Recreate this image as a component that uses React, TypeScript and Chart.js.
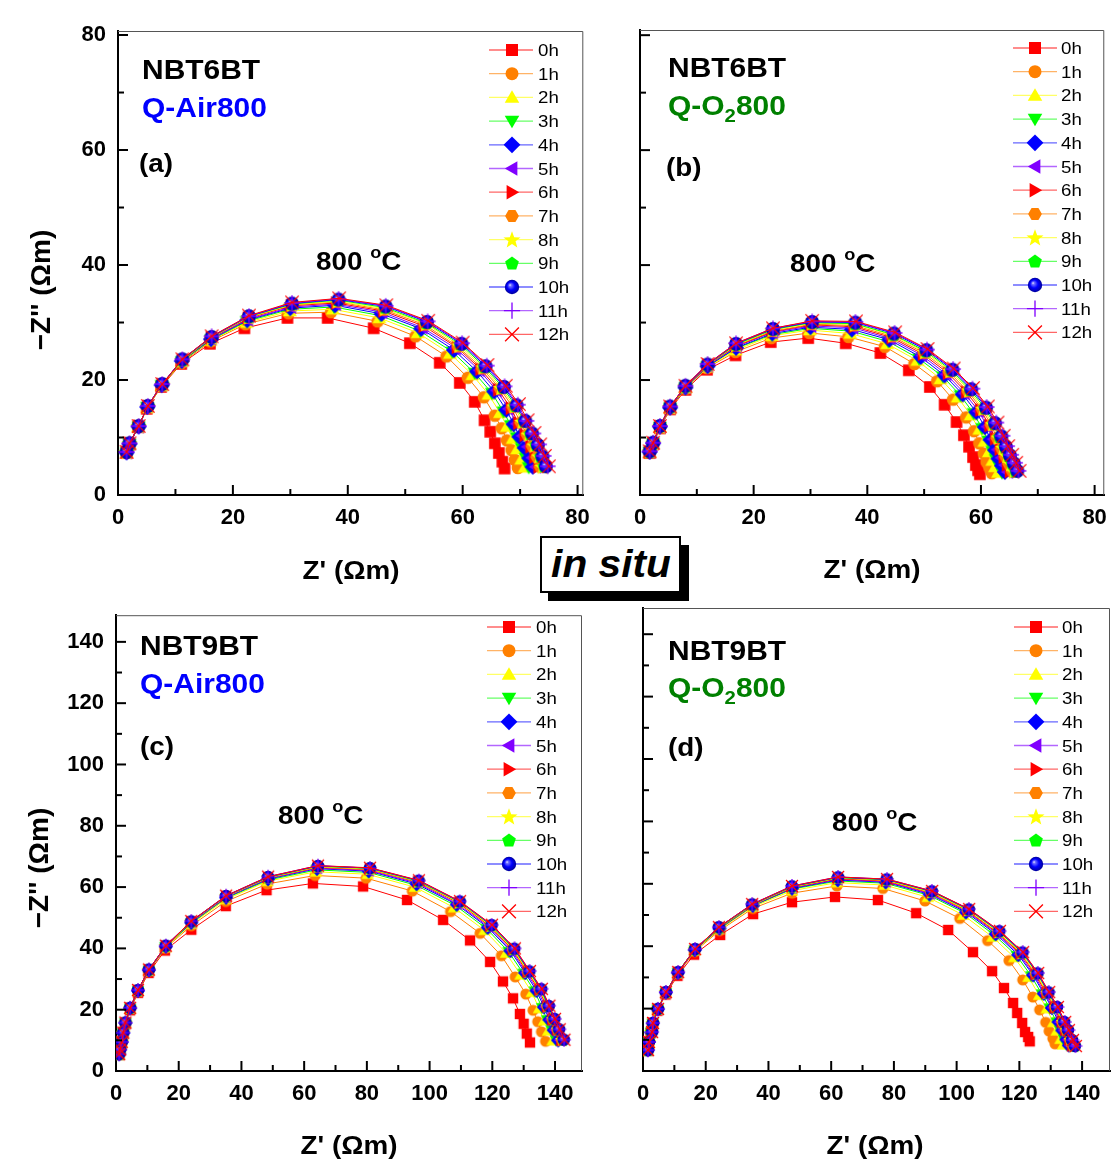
import React, { useEffect, useRef } from 'react';
import { Chart, registerables } from 'chart.js';
Chart.register(...registerables);

const FONT = '"Liberation Sans", Arial, sans-serif';

const timeLabels = ['0h', '1h', '2h', '3h', '4h', '5h', '6h', '7h', '8h', '9h', '10h', '11h', '12h'];
const seriesColors = ['#FF0000', '#FF8000', '#FFFF00', '#00FF00', '#0000FF', '#8000FF', '#FF0000', '#FF8000', '#FFFF00', '#00FF00', '#0000FF', '#8000FF', '#FF0000'];
const markerKinds = ['square', 'circle', 'triUp', 'triDown', 'diamond', 'triLeft', 'triRight', 'hexagon', 'star', 'pentagon', 'ball', 'plus', 'cross'];

// ---------- Panel (a): NBT6BT Q-Air800 ----------
const aZre = [
  [1.5, 2.0, 3.5, 5.0, 7.5, 11.0, 16.0, 22.0, 29.5, 36.5, 44.5, 50.8, 56.0, 59.5, 62.1, 63.8, 64.8, 65.6, 66.3, 66.9, 67.3],
  [1.5, 2.0, 3.5, 5.1, 7.6, 11.1, 16.1, 22.2, 29.7, 37.1, 45.2, 51.8, 57.2, 60.9, 63.7, 65.6, 66.8, 67.7, 68.5, 69.1, 69.6],
  [1.5, 2.0, 3.5, 5.1, 7.6, 11.1, 16.1, 22.4, 29.9, 37.4, 45.5, 52.2, 57.8, 61.7, 64.5, 66.5, 67.7, 68.7, 69.5, 70.2, 70.8],
  [1.5, 2.0, 3.6, 5.1, 7.6, 11.1, 16.2, 22.4, 29.9, 37.6, 45.7, 52.6, 58.2, 62.1, 65.1, 67.1, 68.4, 69.4, 70.3, 71.0, 71.5],
  [1.5, 2.0, 3.6, 5.1, 7.6, 11.1, 16.2, 22.5, 30.0, 37.8, 45.9, 52.8, 58.5, 62.5, 65.5, 67.6, 68.9, 69.9, 70.8, 71.6, 72.2],
  [1.5, 2.0, 3.6, 5.1, 7.6, 11.1, 16.2, 22.6, 30.1, 37.9, 46.0, 53.0, 58.8, 62.9, 65.9, 68.0, 69.4, 70.4, 71.3, 72.1, 72.7],
  [1.5, 2.0, 3.6, 5.2, 7.7, 11.2, 16.2, 22.6, 30.1, 38.0, 46.2, 53.2, 59.0, 63.1, 66.2, 68.4, 69.7, 70.8, 71.8, 72.5, 73.2],
  [1.5, 2.0, 3.6, 5.2, 7.7, 11.2, 16.2, 22.6, 30.1, 38.1, 46.3, 53.4, 59.2, 63.4, 66.5, 68.7, 70.1, 71.2, 72.1, 72.9, 73.5],
  [1.5, 2.0, 3.6, 5.2, 7.7, 11.2, 16.3, 22.7, 30.2, 38.2, 46.4, 53.6, 59.4, 63.6, 66.7, 69.0, 70.4, 71.5, 72.5, 73.3, 73.9],
  [1.5, 2.0, 3.6, 5.2, 7.7, 11.2, 16.3, 22.7, 30.2, 38.3, 46.5, 53.7, 59.6, 63.8, 67.0, 69.2, 70.7, 71.8, 72.8, 73.6, 74.2],
  [1.5, 2.0, 3.6, 5.2, 7.7, 11.2, 16.3, 22.8, 30.3, 38.4, 46.6, 53.8, 59.8, 64.0, 67.2, 69.4, 70.9, 72.1, 73.1, 73.9, 74.5],
  [1.5, 2.0, 3.6, 5.2, 7.7, 11.2, 16.3, 22.8, 30.3, 38.4, 46.6, 53.9, 59.9, 64.2, 67.3, 69.6, 71.1, 72.3, 73.3, 74.1, 74.8],
  [1.5, 2.0, 3.6, 5.2, 7.7, 11.2, 16.3, 22.8, 30.3, 38.5, 46.7, 54.0, 60.0, 64.3, 67.5, 69.8, 71.3, 72.5, 73.5, 74.3, 75.0],
];
const aZim = [
  [7.3, 8.8, 11.8, 15.0, 18.8, 22.8, 26.3, 29.0, 30.8, 30.8, 29.0, 26.4, 23.0, 19.5, 16.2, 13.0, 11.0, 9.0, 7.3, 5.8, 4.6],
  [7.4, 8.9, 11.9, 15.2, 19.0, 23.0, 26.7, 29.7, 31.6, 31.8, 30.2, 27.6, 24.1, 20.4, 17.0, 13.8, 11.6, 9.5, 7.8, 6.1, 4.7],
  [7.4, 8.9, 11.9, 15.2, 19.0, 23.2, 26.9, 30.0, 32.0, 32.3, 30.8, 28.2, 24.6, 20.9, 17.5, 14.3, 11.9, 9.8, 8.0, 6.2, 4.8],
  [7.4, 8.9, 11.9, 15.3, 19.1, 23.2, 27.0, 30.2, 32.3, 32.7, 31.2, 28.5, 24.9, 21.2, 17.7, 14.5, 12.1, 10.0, 8.1, 6.4, 4.8],
  [7.4, 8.9, 11.9, 15.3, 19.1, 23.3, 27.1, 30.4, 32.5, 33.0, 31.5, 28.9, 25.2, 21.5, 18.0, 14.8, 12.3, 10.1, 8.2, 6.4, 4.9],
  [7.4, 8.9, 11.9, 15.4, 19.2, 23.4, 27.2, 30.5, 32.7, 33.2, 31.8, 29.1, 25.5, 21.7, 18.2, 15.0, 12.4, 10.3, 8.4, 6.5, 4.9],
  [7.5, 9.0, 12.0, 15.4, 19.2, 23.4, 27.3, 30.7, 32.9, 33.4, 32.0, 29.4, 25.7, 21.9, 18.3, 15.1, 12.5, 10.4, 8.4, 6.6, 4.9],
  [7.5, 9.0, 12.0, 15.4, 19.2, 23.4, 27.4, 30.8, 33.0, 33.6, 32.2, 29.6, 25.8, 22.0, 18.5, 15.3, 12.6, 10.5, 8.5, 6.6, 4.9],
  [7.5, 9.0, 12.0, 15.4, 19.2, 23.5, 27.4, 30.9, 33.1, 33.7, 32.4, 29.8, 26.0, 22.2, 18.6, 15.4, 12.7, 10.5, 8.6, 6.7, 4.9],
  [7.5, 9.0, 12.0, 15.5, 19.3, 23.5, 27.5, 31.0, 33.2, 33.9, 32.6, 29.9, 26.2, 22.3, 18.7, 15.5, 12.8, 10.6, 8.7, 6.7, 5.0],
  [7.5, 9.0, 12.0, 15.5, 19.3, 23.6, 27.5, 31.1, 33.3, 34.0, 32.8, 30.1, 26.3, 22.4, 18.8, 15.6, 12.9, 10.7, 8.7, 6.7, 5.0],
  [7.5, 9.0, 12.0, 15.5, 19.3, 23.6, 27.6, 31.1, 33.4, 34.1, 32.9, 30.2, 26.4, 22.5, 18.9, 15.7, 12.9, 10.7, 8.8, 6.8, 5.0],
  [7.5, 9.0, 12.0, 15.5, 19.3, 23.6, 27.6, 31.2, 33.5, 34.2, 33.0, 30.3, 26.5, 22.6, 19.0, 15.8, 13.0, 10.8, 8.8, 6.8, 5.0],
];

// ---------- Panel (b): NBT6BT Q-O2800 ----------
const bZre = [
  [1.7, 2.3, 3.5, 5.3, 8.0, 11.8, 16.8, 23.0, 29.6, 36.2, 42.3, 47.3, 51.0, 53.6, 55.7, 57.0, 57.9, 58.6, 59.1, 59.5, 59.8],
  [1.7, 2.3, 3.5, 5.3, 8.0, 11.8, 16.8, 23.1, 29.8, 36.7, 43.1, 48.3, 52.3, 55.1, 57.4, 58.8, 59.7, 60.5, 61.0, 61.5, 61.9],
  [1.7, 2.3, 3.5, 5.3, 8.0, 11.8, 16.8, 23.2, 29.9, 37.0, 43.5, 48.8, 52.9, 55.9, 58.2, 59.7, 60.6, 61.4, 62.0, 62.5, 63.0],
  [1.7, 2.3, 3.5, 5.3, 8.0, 11.9, 16.9, 23.2, 30.0, 37.2, 43.7, 49.1, 53.3, 56.4, 58.7, 60.2, 61.3, 62.0, 62.6, 63.2, 63.7],
  [1.7, 2.3, 3.5, 5.3, 8.0, 11.9, 16.9, 23.3, 30.0, 37.3, 43.9, 49.4, 53.6, 56.8, 59.2, 60.7, 61.7, 62.5, 63.1, 63.7, 64.2],
  [1.7, 2.3, 3.5, 5.3, 8.0, 11.9, 16.9, 23.3, 30.1, 37.5, 44.1, 49.6, 53.9, 57.1, 59.6, 61.1, 62.2, 62.9, 63.6, 64.2, 64.7],
  [1.7, 2.3, 3.5, 5.3, 8.0, 11.9, 16.9, 23.3, 30.1, 37.6, 44.3, 49.8, 54.2, 57.4, 59.9, 61.5, 62.5, 63.3, 64.0, 64.6, 65.1],
  [1.7, 2.3, 3.5, 5.3, 8.0, 11.9, 16.9, 23.3, 30.2, 37.7, 44.4, 50.0, 54.4, 57.7, 60.2, 61.8, 62.8, 63.6, 64.3, 64.9, 65.5],
  [1.7, 2.3, 3.5, 5.3, 8.0, 11.9, 16.9, 23.3, 30.2, 37.8, 44.5, 50.1, 54.6, 57.9, 60.4, 62.1, 63.1, 63.9, 64.6, 65.3, 65.8],
  [1.7, 2.3, 3.5, 5.3, 8.0, 11.9, 16.9, 23.4, 30.2, 37.8, 44.6, 50.3, 54.8, 58.1, 60.7, 62.3, 63.3, 64.2, 64.9, 65.5, 66.1],
  [1.7, 2.3, 3.5, 5.3, 8.0, 11.9, 16.9, 23.4, 30.3, 37.9, 44.7, 50.4, 55.0, 58.3, 60.9, 62.5, 63.6, 64.4, 65.1, 65.8, 66.4],
  [1.7, 2.3, 3.5, 5.3, 8.0, 11.9, 16.9, 23.4, 30.3, 37.9, 44.8, 50.5, 55.1, 58.5, 61.0, 62.7, 63.8, 64.6, 65.3, 66.0, 66.6],
  [1.7, 2.3, 3.5, 5.3, 8.0, 11.9, 16.9, 23.4, 30.3, 38.0, 44.9, 50.6, 55.2, 58.6, 61.2, 62.9, 64.0, 64.8, 65.5, 66.2, 66.8],
];
const bZim = [
  [7.3, 8.8, 11.6, 14.9, 18.3, 21.8, 24.3, 26.6, 27.3, 26.4, 24.7, 21.7, 18.8, 15.7, 12.7, 10.4, 8.4, 6.6, 5.2, 4.3, 3.6],
  [7.4, 8.9, 11.7, 15.1, 18.5, 22.1, 24.9, 27.3, 28.2, 27.5, 25.8, 22.8, 19.8, 16.6, 13.5, 11.1, 9.0, 7.2, 5.7, 4.7, 3.8],
  [7.4, 8.9, 11.8, 15.1, 18.6, 22.2, 25.2, 27.7, 28.7, 28.1, 26.3, 23.4, 20.2, 17.0, 13.9, 11.4, 9.3, 7.5, 6.0, 4.9, 3.9],
  [7.5, 9.0, 11.8, 15.2, 18.7, 22.4, 25.5, 27.9, 29.0, 28.5, 26.7, 23.7, 20.6, 17.3, 14.2, 11.6, 9.4, 7.6, 6.2, 5.0, 3.9],
  [7.5, 9.0, 11.9, 15.2, 18.7, 22.4, 25.6, 28.1, 29.2, 28.8, 27.0, 24.0, 20.8, 17.5, 14.4, 11.8, 9.6, 7.8, 6.3, 5.1, 4.0],
  [7.5, 9.0, 11.9, 15.3, 18.8, 22.5, 25.8, 28.3, 29.4, 29.1, 27.2, 24.3, 21.0, 17.7, 14.6, 11.9, 9.7, 7.9, 6.5, 5.2, 4.0],
  [7.5, 9.0, 11.9, 15.3, 18.8, 22.6, 25.9, 28.4, 29.6, 29.3, 27.4, 24.5, 21.2, 17.9, 14.8, 12.1, 9.8, 8.0, 6.6, 5.3, 4.1],
  [7.5, 9.0, 11.9, 15.3, 18.9, 22.6, 26.0, 28.5, 29.7, 29.5, 27.6, 24.7, 21.4, 18.0, 14.9, 12.2, 9.9, 8.1, 6.7, 5.4, 4.1],
  [7.6, 9.1, 11.9, 15.3, 18.9, 22.7, 26.1, 28.7, 29.9, 29.7, 27.8, 24.9, 21.6, 18.2, 15.0, 12.3, 10.0, 8.2, 6.8, 5.4, 4.1],
  [7.6, 9.1, 12.0, 15.4, 18.9, 22.7, 26.2, 28.8, 30.0, 29.8, 27.9, 25.0, 21.7, 18.3, 15.1, 12.4, 10.1, 8.3, 6.8, 5.5, 4.1],
  [7.6, 9.1, 12.0, 15.4, 19.0, 22.7, 26.3, 28.9, 30.1, 30.0, 28.1, 25.2, 21.8, 18.4, 15.2, 12.5, 10.2, 8.4, 6.9, 5.5, 4.2],
  [7.6, 9.1, 12.0, 15.4, 19.0, 22.8, 26.4, 29.0, 30.2, 30.1, 28.2, 25.3, 21.9, 18.5, 15.3, 12.6, 10.3, 8.5, 7.0, 5.6, 4.2],
  [7.6, 9.1, 12.0, 15.4, 19.0, 22.8, 26.4, 29.0, 30.3, 30.2, 28.3, 25.4, 22.0, 18.6, 15.4, 12.6, 10.3, 8.5, 7.0, 5.6, 4.2],
];

// ---------- Panel (c): NBT9BT Q-Air800 ----------
const cZre = [
  [1.0, 1.3, 1.8, 2.3, 3.0, 4.5, 7.0, 10.4, 15.6, 24.0, 35.0, 48.0, 62.8, 78.8, 92.8, 104.3, 112.9, 119.3, 123.4, 126.6, 128.8, 130.0, 131.0, 132.0],
  [1.0, 1.3, 1.8, 2.3, 3.0, 4.5, 7.0, 10.4, 15.7, 24.0, 35.0, 48.2, 63.5, 79.8, 94.5, 106.7, 116.1, 122.9, 127.3, 130.7, 133.0, 134.5, 135.7, 137.0],
  [1.0, 1.3, 1.8, 2.3, 3.0, 4.5, 7.0, 10.5, 15.8, 24.0, 35.1, 48.3, 63.8, 80.2, 95.3, 107.8, 117.5, 124.4, 129.0, 132.6, 134.9, 136.5, 137.8, 139.2],
  [1.0, 1.3, 1.8, 2.3, 3.0, 4.5, 7.0, 10.5, 15.8, 24.0, 35.1, 48.4, 64.0, 80.5, 95.7, 108.4, 118.2, 125.2, 129.9, 133.5, 135.9, 137.5, 138.9, 140.3],
  [1.0, 1.3, 1.8, 2.3, 3.0, 4.5, 7.0, 10.5, 15.9, 24.0, 35.1, 48.5, 64.1, 80.6, 95.9, 108.7, 118.6, 125.8, 130.5, 134.1, 136.5, 138.2, 139.6, 141.0],
  [1.0, 1.3, 1.8, 2.3, 3.0, 4.5, 7.0, 10.5, 15.9, 24.0, 35.1, 48.5, 64.2, 80.7, 96.1, 108.9, 118.9, 126.1, 130.8, 134.5, 136.9, 138.6, 140.0, 141.5],
  [1.0, 1.3, 1.8, 2.3, 3.0, 4.5, 7.0, 10.5, 15.9, 24.0, 35.1, 48.5, 64.2, 80.8, 96.2, 109.2, 119.2, 126.4, 131.1, 134.9, 137.3, 139.0, 140.5, 141.9],
  [1.0, 1.3, 1.8, 2.3, 3.0, 4.5, 7.0, 10.5, 15.9, 24.0, 35.1, 48.5, 64.3, 80.8, 96.3, 109.3, 119.3, 126.6, 131.3, 135.1, 137.4, 139.2, 140.7, 142.1],
  [1.0, 1.3, 1.8, 2.3, 3.0, 4.5, 7.0, 10.5, 15.9, 24.0, 35.1, 48.5, 64.3, 80.9, 96.4, 109.4, 119.5, 126.7, 131.5, 135.2, 137.6, 139.4, 140.9, 142.3],
  [1.0, 1.3, 1.8, 2.3, 3.0, 4.5, 7.0, 10.5, 15.9, 24.0, 35.1, 48.5, 64.3, 80.9, 96.4, 109.5, 119.6, 126.9, 131.7, 135.4, 137.8, 139.6, 141.1, 142.6],
  [1.0, 1.3, 1.8, 2.3, 3.0, 4.5, 7.0, 10.5, 15.9, 24.0, 35.1, 48.5, 64.4, 81.0, 96.5, 109.6, 119.8, 127.0, 131.8, 135.6, 138.0, 139.8, 141.3, 142.8],
  [1.0, 1.3, 1.8, 2.3, 3.0, 4.5, 7.0, 10.5, 15.9, 24.0, 35.1, 48.5, 64.4, 81.0, 96.6, 109.6, 119.8, 127.1, 131.9, 135.7, 138.1, 139.9, 141.4, 142.9],
  [1.0, 1.3, 1.8, 2.3, 3.0, 4.5, 7.0, 10.5, 15.9, 24.0, 35.1, 48.5, 64.4, 81.0, 96.6, 109.7, 119.9, 127.2, 132.0, 135.8, 138.2, 140.0, 141.5, 143.0],
];
const cZim = [
  [5.3, 6.8, 9.2, 12.0, 15.2, 19.8, 25.5, 32.0, 39.3, 46.1, 53.8, 59.0, 61.2, 60.2, 55.8, 49.3, 42.6, 35.6, 29.2, 23.7, 18.6, 15.4, 12.2, 9.3],
  [5.4, 6.9, 9.3, 12.2, 15.5, 20.2, 25.9, 32.5, 40.0, 47.4, 55.3, 61.0, 63.8, 62.9, 58.7, 52.0, 44.9, 37.6, 30.7, 25.1, 19.8, 16.1, 12.8, 9.7],
  [5.4, 6.9, 9.4, 12.3, 15.6, 20.3, 26.1, 32.7, 40.3, 47.9, 56.0, 61.9, 65.0, 64.2, 60.0, 53.3, 45.9, 38.5, 31.4, 25.7, 20.4, 16.4, 13.1, 9.9],
  [5.5, 7.0, 9.4, 12.4, 15.7, 20.4, 26.2, 32.8, 40.5, 48.2, 56.4, 62.3, 65.6, 64.8, 60.6, 53.9, 46.4, 38.9, 31.8, 26.0, 20.6, 16.6, 13.3, 10.0],
  [5.5, 7.0, 9.4, 12.4, 15.7, 20.5, 26.2, 32.9, 40.6, 48.4, 56.6, 62.6, 66.0, 65.2, 61.0, 54.3, 46.8, 39.2, 32.0, 26.2, 20.8, 16.7, 13.3, 10.0],
  [5.5, 7.0, 9.5, 12.4, 15.7, 20.5, 26.3, 32.9, 40.7, 48.5, 56.7, 62.8, 66.2, 65.4, 61.3, 54.5, 47.0, 39.4, 32.1, 26.4, 20.9, 16.8, 13.4, 10.1],
  [5.5, 7.0, 9.5, 12.5, 15.7, 20.5, 26.3, 33.0, 40.7, 48.6, 56.9, 63.0, 66.4, 65.7, 61.6, 54.8, 47.2, 39.6, 32.3, 26.5, 21.0, 16.8, 13.5, 10.1],
  [5.5, 7.0, 9.5, 12.5, 15.8, 20.5, 26.3, 33.0, 40.8, 48.7, 56.9, 63.0, 66.5, 65.8, 61.7, 54.9, 47.3, 39.6, 32.3, 26.6, 21.1, 16.9, 13.5, 10.1],
  [5.5, 7.0, 9.5, 12.5, 15.8, 20.6, 26.3, 33.0, 40.8, 48.7, 57.0, 63.1, 66.7, 65.9, 61.8, 55.0, 47.4, 39.7, 32.4, 26.6, 21.1, 16.9, 13.5, 10.1],
  [5.5, 7.0, 9.5, 12.5, 15.8, 20.6, 26.4, 33.1, 40.8, 48.8, 57.1, 63.2, 66.8, 66.1, 61.9, 55.2, 47.5, 39.8, 32.5, 26.7, 21.2, 16.9, 13.5, 10.2],
  [5.5, 7.0, 9.5, 12.5, 15.8, 20.6, 26.4, 33.1, 40.9, 48.8, 57.1, 63.3, 66.9, 66.2, 62.1, 55.3, 47.6, 39.9, 32.5, 26.7, 21.2, 17.0, 13.6, 10.2],
  [5.5, 7.0, 9.5, 12.5, 15.8, 20.6, 26.4, 33.1, 40.9, 48.9, 57.2, 63.4, 67.0, 66.2, 62.1, 55.3, 47.6, 40.0, 32.6, 26.8, 21.3, 17.0, 13.6, 10.2],
  [5.5, 7.0, 9.5, 12.5, 15.8, 20.6, 26.4, 33.1, 40.9, 48.9, 57.2, 63.4, 67.0, 66.3, 62.2, 55.4, 47.7, 40.0, 32.6, 26.8, 21.3, 17.0, 13.6, 10.2],
];

// ---------- Panel (d): NBT9BT Q-O2800 ----------
const dZre = [
  [1.5, 1.8, 2.4, 3.0, 4.6, 7.2, 11.0, 16.3, 24.6, 35.1, 47.5, 61.2, 74.9, 87.1, 97.3, 105.2, 111.3, 115.1, 118.0, 119.3, 120.9, 121.8, 122.8, 123.3],
  [1.5, 1.9, 2.6, 3.1, 4.7, 7.3, 11.1, 16.5, 24.4, 35.0, 47.5, 61.8, 76.5, 89.9, 101.0, 109.9, 116.7, 121.1, 124.3, 126.5, 128.4, 129.5, 130.7, 131.4],
  [1.5, 1.9, 2.6, 3.1, 4.7, 7.3, 11.1, 16.5, 24.4, 35.0, 47.5, 61.9, 77.0, 90.8, 102.1, 111.4, 118.4, 122.9, 126.3, 128.7, 130.8, 131.9, 133.1, 133.9],
  [1.5, 1.9, 2.6, 3.1, 4.7, 7.3, 11.1, 16.5, 24.4, 35.0, 47.5, 62.0, 77.2, 91.2, 102.7, 112.1, 119.2, 123.8, 127.2, 129.7, 131.9, 133.0, 134.2, 135.1],
  [1.5, 1.9, 2.6, 3.1, 4.7, 7.3, 11.1, 16.5, 24.4, 35.0, 47.5, 62.1, 77.4, 91.4, 103.0, 112.5, 119.7, 124.4, 127.8, 130.4, 132.5, 133.7, 135.0, 135.8],
  [1.5, 1.9, 2.6, 3.1, 4.7, 7.3, 11.1, 16.5, 24.4, 35.0, 47.5, 62.1, 77.5, 91.6, 103.2, 112.8, 120.0, 124.7, 128.1, 130.7, 133.0, 134.1, 135.4, 136.2],
  [1.5, 1.9, 2.6, 3.1, 4.7, 7.3, 11.1, 16.5, 24.4, 35.0, 47.5, 62.1, 77.5, 91.7, 103.4, 113.0, 120.3, 125.0, 128.5, 131.1, 133.4, 134.5, 135.8, 136.7],
  [1.5, 1.9, 2.6, 3.1, 4.7, 7.3, 11.1, 16.5, 24.4, 35.0, 47.5, 62.1, 77.6, 91.8, 103.5, 113.2, 120.5, 125.2, 128.7, 131.4, 133.6, 134.8, 136.1, 137.0],
  [1.5, 1.9, 2.6, 3.1, 4.7, 7.3, 11.1, 16.5, 24.4, 35.0, 47.5, 62.2, 77.7, 91.9, 103.7, 113.4, 120.7, 125.5, 128.9, 131.7, 133.9, 135.1, 136.4, 137.3],
  [1.5, 1.9, 2.6, 3.1, 4.7, 7.3, 11.1, 16.5, 24.4, 35.0, 47.5, 62.2, 77.7, 92.0, 103.8, 113.5, 120.9, 125.7, 129.2, 131.9, 134.2, 135.4, 136.7, 137.6],
  [1.6, 1.9, 2.9, 3.2, 4.8, 7.3, 11.2, 16.6, 24.2, 34.8, 47.5, 62.2, 77.7, 92.1, 103.9, 113.6, 121.0, 125.8, 129.3, 132.0, 134.3, 135.5, 136.8, 137.7],
  [1.6, 1.9, 2.9, 3.2, 4.8, 7.3, 11.2, 16.6, 24.2, 34.8, 47.5, 62.2, 77.8, 92.1, 103.9, 113.7, 121.1, 125.9, 129.4, 132.2, 134.5, 135.7, 137.0, 137.9],
  [1.6, 1.9, 2.9, 3.2, 4.8, 7.3, 11.2, 16.6, 24.2, 34.8, 47.5, 62.2, 77.8, 92.2, 104.0, 113.8, 121.2, 126.0, 129.5, 132.3, 134.6, 135.8, 137.1, 138.0],
];
const dZim = [
  [6.5, 9.0, 12.1, 14.9, 19.3, 24.5, 30.5, 37.3, 43.6, 50.3, 54.1, 55.8, 54.8, 50.6, 45.2, 38.1, 32.0, 26.6, 21.8, 18.6, 15.4, 12.5, 10.9, 9.5],
  [6.6, 9.2, 12.3, 15.2, 19.6, 24.9, 31.2, 38.3, 45.0, 52.1, 57.0, 59.3, 58.5, 54.5, 48.9, 41.8, 35.4, 29.2, 23.7, 19.6, 15.6, 12.8, 10.4, 8.7],
  [6.6, 9.2, 12.4, 15.3, 19.7, 25.1, 31.4, 38.6, 45.4, 52.6, 57.8, 60.4, 59.6, 55.7, 50.0, 43.0, 36.4, 30.1, 24.3, 20.0, 15.6, 12.9, 10.2, 8.4],
  [6.7, 9.2, 12.4, 15.3, 19.8, 25.1, 31.5, 38.7, 45.6, 52.9, 58.3, 60.9, 60.2, 56.3, 50.6, 43.5, 36.9, 30.4, 24.6, 20.1, 15.6, 13.0, 10.1, 8.3],
  [6.7, 9.3, 12.4, 15.3, 19.8, 25.2, 31.5, 38.8, 45.7, 53.0, 58.5, 61.2, 60.5, 56.6, 50.9, 43.9, 37.2, 30.7, 24.8, 20.2, 15.7, 13.0, 10.1, 8.2],
  [6.7, 9.3, 12.5, 15.3, 19.8, 25.2, 31.6, 38.9, 45.8, 53.1, 58.7, 61.4, 60.7, 56.8, 51.1, 44.1, 37.4, 30.8, 24.9, 20.3, 15.7, 13.0, 10.0, 8.2],
  [6.7, 9.3, 12.5, 15.4, 19.8, 25.2, 31.6, 38.9, 45.9, 53.2, 58.8, 61.6, 60.9, 57.1, 51.3, 44.3, 37.6, 31.0, 25.0, 20.3, 15.7, 13.1, 10.0, 8.1],
  [6.7, 9.3, 12.5, 15.4, 19.9, 25.2, 31.6, 39.0, 45.9, 53.3, 58.9, 61.8, 61.0, 57.2, 51.4, 44.4, 37.7, 31.1, 25.1, 20.4, 15.7, 13.1, 10.0, 8.1],
  [6.7, 9.3, 12.5, 15.4, 19.9, 25.3, 31.6, 39.0, 46.0, 53.3, 59.0, 61.9, 61.2, 57.3, 51.6, 44.6, 37.8, 31.2, 25.1, 20.4, 15.7, 13.1, 9.9, 8.1],
  [6.7, 9.3, 12.5, 15.4, 19.9, 25.3, 31.7, 39.0, 46.0, 53.4, 59.1, 62.0, 61.3, 57.5, 51.7, 44.7, 37.9, 31.3, 25.2, 20.4, 15.7, 13.1, 9.9, 8.0],
  [6.7, 9.3, 12.5, 15.4, 19.9, 25.3, 31.7, 39.1, 46.1, 53.4, 59.2, 62.1, 61.4, 57.6, 51.8, 44.8, 38.0, 31.3, 25.2, 20.5, 15.7, 13.1, 9.9, 8.0],
  [6.7, 9.3, 12.5, 15.4, 19.9, 25.3, 31.7, 39.1, 46.1, 53.5, 59.3, 62.2, 61.5, 57.7, 51.9, 44.8, 38.1, 31.4, 25.3, 20.5, 15.7, 13.1, 9.9, 8.0],
  [6.7, 9.3, 12.5, 15.4, 19.9, 25.3, 31.7, 39.1, 46.1, 53.5, 59.3, 62.2, 61.5, 57.7, 51.9, 44.9, 38.1, 31.4, 25.3, 20.5, 15.7, 13.1, 9.9, 8.0],
];

// ---------- marker drawing ----------
function drawMarker(ctx: CanvasRenderingContext2D, kind: string, x: number, y: number, r: number, color: string) {
  ctx.save();
  ctx.fillStyle = color;
  ctx.strokeStyle = color;
  const poly = (n: number, rad: number, rot: number, cx: number, cy: number) => {
    ctx.beginPath();
    for (let i = 0; i < n; i++) {
      const a = rot + (i * 2 * Math.PI) / n;
      const px = cx + rad * Math.cos(a);
      const py = cy + rad * Math.sin(a);
      if (i === 0) ctx.moveTo(px, py); else ctx.lineTo(px, py);
    }
    ctx.closePath();
    ctx.fill();
  };
  switch (kind) {
    case 'square': ctx.fillRect(x - r, y - r, 2 * r, 2 * r); break;
    case 'circle': ctx.beginPath(); ctx.arc(x, y, r * 1.08, 0, Math.PI * 2); ctx.fill(); break;
    case 'triUp': poly(3, r * 1.4, -Math.PI / 2, x, y + r * 0.2); break;
    case 'triDown': poly(3, r * 1.4, Math.PI / 2, x, y - r * 0.2); break;
    case 'triLeft': poly(3, r * 1.4, Math.PI, x + r * 0.2, y); break;
    case 'triRight': poly(3, r * 1.4, 0, x - r * 0.2, y); break;
    case 'diamond': poly(4, r * 1.4, -Math.PI / 2, x, y); break;
    case 'hexagon': poly(6, r * 1.15, 0, x, y); break;
    case 'pentagon': poly(5, r * 1.2, -Math.PI / 2, x, y + r * 0.08); break;
    case 'star': {
      ctx.beginPath();
      for (let i = 0; i < 10; i++) {
        const rad = i % 2 === 0 ? r * 1.5 : r * 0.62;
        const a = -Math.PI / 2 + (i * Math.PI) / 5;
        const px = x + rad * Math.cos(a);
        const py = y + r * 0.1 + rad * Math.sin(a);
        if (i === 0) ctx.moveTo(px, py); else ctx.lineTo(px, py);
      }
      ctx.closePath();
      ctx.fill();
      break;
    }
    case 'ball': {
      const g = ctx.createRadialGradient(x - r * 0.35, y - r * 0.35, 0, x, y, r * 1.2);
      g.addColorStop(0, '#f0f0ff');
      g.addColorStop(0.18, '#7070ff');
      g.addColorStop(0.55, '#0000ff');
      g.addColorStop(1, '#00009a');
      ctx.fillStyle = g;
      ctx.beginPath(); ctx.arc(x, y, r * 1.2, 0, Math.PI * 2); ctx.fill();
      break;
    }
    case 'plus': {
      ctx.lineWidth = Math.max(1.2, r * 0.22);
      ctx.beginPath();
      ctx.moveTo(x - r * 1.35, y); ctx.lineTo(x + r * 1.35, y);
      ctx.moveTo(x, y - r * 1.35); ctx.lineTo(x, y + r * 1.35);
      ctx.stroke();
      break;
    }
    case 'cross': {
      ctx.lineWidth = Math.max(1.2, r * 0.22);
      const d = r * 1.15;
      ctx.beginPath();
      ctx.moveTo(x - d, y - d); ctx.lineTo(x + d, y + d);
      ctx.moveTo(x - d, y + d); ctx.lineTo(x + d, y - d);
      ctx.stroke();
      break;
    }
  }
  ctx.restore();
}

function markerImage(kind: string, color: string, r: number): HTMLCanvasElement {
  const s = Math.ceil(r * 3.4) + 2;
  const c = document.createElement('canvas');
  c.width = s; c.height = s;
  const ctx = c.getContext('2d')!;
  drawMarker(ctx, kind, s / 2, s / 2, r, color);
  return c;
}

// ---------- text helpers ----------
type Seg = { t: string; size: number; dy?: number; weight?: string };
function drawSegs(ctx: CanvasRenderingContext2D, segs: Seg[], x: number, y: number, color: string, align: 'left' | 'center' = 'left', sx = 1.07) {
  ctx.save();
  ctx.fillStyle = color;
  ctx.textBaseline = 'alphabetic';
  ctx.textAlign = 'left';
  const widths = segs.map((s) => {
    ctx.font = `${s.weight ?? 'bold'} ${s.size}px ${FONT}`;
    return ctx.measureText(s.t).width * sx;
  });
  const total = widths.reduce((a, b) => a + b, 0);
  let cx = align === 'center' ? x - total / 2 : x;
  segs.forEach((s, i) => {
    ctx.font = `${s.weight ?? 'bold'} ${s.size}px ${FONT}`;
    ctx.save();
    ctx.translate(cx, y + (s.dy ?? 0));
    ctx.scale(sx, 1);
    ctx.fillText(s.t, 0, 0);
    ctx.restore();
    cx += widths[i];
  });
  ctx.restore();
}

type TextItem = { segs: Seg[]; x: number; y: number; color: string; align?: 'left' | 'center' };
type PanelCfg = {
  key: string;
  ox: number; oy: number; w: number; h: number;
  pad: { left: number; top: number; right: number; bottom: number };
  yWidth: number; xHeight: number;
  xMax: number; yMax: number;
  showYLabels: boolean;
  zre: number[][]; zim: number[][];
  r: number;
  texts: TextItem[];
  yTitle?: { x: number; y: number };
  legend: { mx: number; lx1: number; lx2: number; tx: number; y0: number; dy: number };
};

const title800 = (x: number, y: number): TextItem => ({ segs: [{ t: '800 ', size: 26 }, { t: 'o', size: 17, dy: -12 }, { t: 'C', size: 26 }], x, y, color: '#000' });
const qAir = (x: number, y: number): TextItem => ({ segs: [{ t: 'Q-Air800', size: 28 }], x, y, color: '#0000FF' });
const qO2 = (x: number, y: number): TextItem => ({ segs: [{ t: 'Q-O', size: 28 }, { t: '2', size: 19, dy: 7 }, { t: '800', size: 28 }], x, y, color: '#008000' });
const plain = (t: string, x: number, y: number, size = 28): TextItem => ({ segs: [{ t, size }], x, y, color: '#000' });
const xTitle = (x: number, y: number): TextItem => ({ segs: [{ t: "Z' (Ωm)", size: 26 }], x, y, color: '#000', align: 'center' });

const panels: PanelCfg[] = [
  {
    key: 'a', ox: 0, oy: 0, w: 600, h: 590,
    pad: { left: 0, top: 31, right: 16, bottom: 0 }, yWidth: 118, xHeight: 95,
    xMax: 81.0, yMax: 80.7, showYLabels: true, zre: aZre, zim: aZim, r: 5.8,
    texts: [plain('NBT6BT', 142, 79), qAir(142, 117), plain('(a)', 139, 172, 26), title800(316, 270), xTitle(351, 579)],
    yTitle: { x: 42, y: 290 },
    legend: { mx: 512, lx1: 489, lx2: 533, tx: 538, y0: 50, dy: 23.7 },
  },
  {
    key: 'b', ox: 600, oy: 0, w: 517, h: 590,
    pad: { left: 0, top: 30, right: 7, bottom: 0 }, yWidth: 40, xHeight: 95,
    xMax: 81.7, yMax: 80.9, showYLabels: false, zre: bZre, zim: bZim, r: 5.8,
    texts: [plain('NBT6BT', 668, 77), qO2(668, 115), plain('(b)', 666, 176, 26), title800(790, 272), xTitle(872, 578)],
    legend: { mx: 1035, lx1: 1013, lx2: 1057, tx: 1061, y0: 48, dy: 23.7 },
  },
  {
    key: 'c', ox: 0, oy: 590, w: 600, h: 572,
    pad: { left: 0, top: 17, right: 18, bottom: 0 }, yWidth: 116, xHeight: 91,
    xMax: 148.6, yMax: 148.7, showYLabels: true, zre: cZre, zim: cZim, r: 5.2,
    texts: [plain('NBT9BT', 140, 655), qAir(140, 693), plain('(c)', 140, 755, 26), title800(278, 824), xTitle(349, 1154)],
    yTitle: { x: 40, y: 868 },
    legend: { mx: 509, lx1: 487, lx2: 531, tx: 536, y0: 627, dy: 23.7 },
  },
  {
    key: 'd', ox: 600, oy: 590, w: 517, h: 572,
    pad: { left: 0, top: 18, right: 7, bottom: 0 }, yWidth: 43, xHeight: 91,
    xMax: 148.9, yMax: 148.4, showYLabels: false, zre: dZre, zim: dZim, r: 5.2,
    texts: [plain('NBT9BT', 668, 660), qO2(668, 697), plain('(d)', 668, 756, 26), title800(832, 831), xTitle(875, 1154)],
    legend: { mx: 1036, lx1: 1014, lx2: 1058, tx: 1062, y0: 627, dy: 23.7 },
  },
];

function makeDecor(p: PanelCfg) {
  return {
    id: 'decor_' + p.key,
    afterDraw(chart: any) {
      const ctx: CanvasRenderingContext2D = chart.ctx;
      const { left, right, top, bottom } = chart.chartArea;
      const xs = chart.scales.x;
      const ys = chart.scales.y;
      ctx.save();
      ctx.strokeStyle = '#555';
      ctx.lineWidth = 1;
      ctx.beginPath();
      ctx.moveTo(left, top + 0.5);
      ctx.lineTo(right - 0.5, top + 0.5);
      ctx.lineTo(right - 0.5, bottom);
      ctx.stroke();
      ctx.strokeStyle = '#000';
      ctx.lineWidth = 2;
      for (let v = 10; v <= xs.max + 1e-6; v += 10) {
        const px = xs.getPixelForValue(v);
        const len = v % 20 === 0 ? 10 : 6;
        ctx.beginPath(); ctx.moveTo(px, bottom); ctx.lineTo(px, bottom - len); ctx.stroke();
      }
      for (let v = 10; v <= ys.max + 1e-6; v += 10) {
        const py = ys.getPixelForValue(v);
        const len = v % 20 === 0 ? 10 : 6;
        ctx.beginPath(); ctx.moveTo(left, py); ctx.lineTo(left + len, py); ctx.stroke();
      }
      ctx.restore();

      p.texts.forEach((t) => drawSegs(ctx, t.segs, t.x - p.ox, t.y - p.oy, t.color, t.align ?? 'left'));
      if (p.yTitle) {
        ctx.save();
        ctx.translate(p.yTitle.x - p.ox, p.yTitle.y - p.oy);
        ctx.rotate(-Math.PI / 2);
        ctx.font = `bold 28px ${FONT}`;
        ctx.fillStyle = '#000';
        ctx.textAlign = 'center';
        ctx.textBaseline = 'middle';
        ctx.fillText("\u2212Z'' (\u03A9m)", 0, 0);
        ctx.restore();
      }

      const L = p.legend;
      timeLabels.forEach((lab, i) => {
        const y = L.y0 + i * L.dy - p.oy;
        ctx.save();
        ctx.globalAlpha = 0.6;
        ctx.strokeStyle = seriesColors[i];
        ctx.lineWidth = 1.3;
        ctx.beginPath(); ctx.moveTo(L.lx1 - p.ox, y); ctx.lineTo(L.lx2 - p.ox, y); ctx.stroke();
        ctx.restore();
        drawMarker(ctx, markerKinds[i], L.mx - p.ox, y, 6, seriesColors[i]);
        drawSegs(ctx, [{ t: lab, size: 17, weight: 'normal' }], L.tx - p.ox, y + 6, '#000', 'left', 1.1);
      });
    },
  };
}

function buildConfig(p: PanelCfg): any {
  const datasets = p.zre.map((xs, i) => ({
    label: timeLabels[i],
    data: xs.map((x, j) => ({ x, y: p.zim[i][j] })),
    showLine: true,
    borderColor: seriesColors[i],
    backgroundColor: seriesColors[i],
    borderWidth: 1,
    pointStyle: markerImage(markerKinds[i], seriesColors[i], p.r),
    pointRadius: p.r,
    order: 12 - i,
    tension: 0,
  }));
  const tickFont = { family: FONT, size: 22, weight: 'bold' as const };
  return {
    type: 'scatter',
    data: { datasets },
    options: {
      animation: false,
      responsive: false,
      events: [],
      layout: { padding: p.pad },
      plugins: { legend: { display: false }, tooltip: { enabled: false } },
      scales: {
        x: {
          type: 'linear', position: 'bottom', min: 0, max: p.xMax,
          afterFit: (s: any) => { s.height = p.xHeight; },
          ticks: { stepSize: 20, includeBounds: false, autoSkip: false, maxRotation: 0, font: tickFont, color: '#000', padding: 10 },
          grid: { display: false, drawTicks: false },
          border: { display: true, color: '#000', width: 2 },
        },
        y: {
          type: 'linear', position: 'left', min: 0, max: p.yMax,
          afterFit: (s: any) => { s.width = p.yWidth; },
          ticks: { display: p.showYLabels, stepSize: 20, includeBounds: false, autoSkip: false, font: tickFont, color: '#000', padding: 12 },
          grid: { display: false, drawTicks: false },
          border: { display: true, color: '#000', width: 2 },
        },
      },
    },
    plugins: [makeDecor(p)],
  };
}

function Panel({ cfg }: { cfg: PanelCfg }) {
  const ref = useRef<HTMLCanvasElement>(null);
  useEffect(() => {
    const chart = new Chart(ref.current as HTMLCanvasElement, buildConfig(cfg));
    return () => chart.destroy();
  }, [cfg]);
  return (
    <canvas
      ref={ref}
      width={cfg.w}
      height={cfg.h}
      style={{ position: 'absolute', left: cfg.ox, top: cfg.oy, width: cfg.w, height: cfg.h }}
    />
  );
}

export default function App() {
  return (
    <div style={{ position: 'absolute', left: 0, top: 0, width: 1117, height: 1162, background: '#fff', overflow: 'hidden' }}>
      {panels.map((p) => (
        <Panel key={p.key} cfg={p} />
      ))}
      <div style={{ position: 'absolute', left: 548, top: 545, width: 141, height: 56, background: '#000', zIndex: 5 }} />
      <div
        style={{
          position: 'absolute', left: 540, top: 536, width: 137, height: 53, background: '#fff',
          border: '2px solid #000', zIndex: 6, display: 'flex', alignItems: 'center', justifyContent: 'center',
          fontFamily: FONT, fontWeight: 'bold', fontStyle: 'italic', fontSize: 38, color: '#000',
        }}
      >
        <span style={{ display: 'inline-block', transform: 'scaleX(1.07)' }}>in situ</span>
      </div>
    </div>
  );
}
